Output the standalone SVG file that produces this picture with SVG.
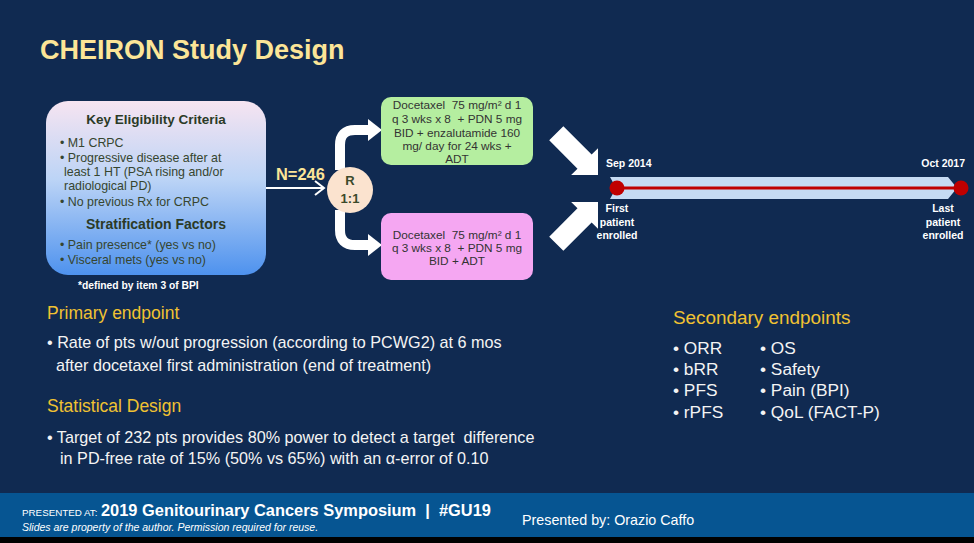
<svg xmlns="http://www.w3.org/2000/svg" width="974" height="543" viewBox="0 0 974 543">
<defs>
<linearGradient id="eligGrad" x1="0" y1="0" x2="0" y2="1">
<stop offset="0" stop-color="#f6e4f1"/>
<stop offset="0.45" stop-color="#bcd4f6"/>
<stop offset="1" stop-color="#4e92ee"/>
</linearGradient>
</defs>
<style>
text{font-family:"Liberation Sans",Arial,sans-serif;white-space:pre}
.title{font-size:27px;font-weight:bold;fill:#fce597}
.elig{font-size:12.4px;fill:#36452f}
.eligh{font-size:13.5px;font-weight:bold;fill:#2b3a26}
.arm{font-size:11.8px;fill:#333333;text-anchor:middle}
.tl{font-size:10.5px;font-weight:bold;fill:#ffffff}
.hdr{font-size:17.5px;fill:#f1c232}
.body{font-size:16.2px;fill:#f4f4f4}
.sec{font-size:17.3px;fill:#f4f4f4}
.wline{fill:none;stroke:#ffffff}
.foot{fill:#ffffff}
</style>
<rect x="0" y="0" width="974" height="543" fill="#102a51"/>
<rect x="0" y="493" width="974" height="44" fill="#065592"/>
<rect x="0" y="537" width="974" height="6" fill="#000000"/>

<text class="title" x="40" y="59">CHEIRON Study Design</text>

<g id="eligibility">
<rect x="46" y="101" width="220" height="174" rx="22" fill="url(#eligGrad)"/>
<text class="eligh" x="156" y="124" text-anchor="middle">Key Eligibility Criteria</text>
<text class="elig" x="60" y="147">• M1 CRPC</text>
<text class="elig" x="60" y="162">• Progressive disease after at</text>
<text class="elig" x="64" y="176">least 1 HT (PSA rising and/or</text>
<text class="elig" x="64" y="190">radiological PD)</text>
<text class="elig" x="60" y="206">• No previous Rx for CRPC</text>
<text class="eligh" x="156" y="229" text-anchor="middle" style="font-size:14px">Stratification Factors</text>
<text class="elig" x="60" y="249">• Pain presence* (yes vs no)</text>
<text class="elig" x="60" y="264">• Visceral mets (yes vs no)</text>
</g>
<text x="78" y="289" style="font-size:10.3px;font-weight:bold;fill:#ffffff">*defined by item 3 of BPI</text>

<g id="connectors">
<line class="wline" x1="266" y1="188" x2="324" y2="188" stroke-width="2"/>
<polyline class="wline" points="315,181 324,188 315,195" stroke-width="2"/>
<path class="wline" d="M340,170 L340,145 Q340,130 355,130 L370,130" stroke-width="10"/>
<polygon points="368,119 382,130 368,141" fill="#ffffff"/>
<path class="wline" d="M340,210 L340,230 Q340,245 355,245 L370,245" stroke-width="10"/>
<polygon points="368,234 382,245 368,256" fill="#ffffff"/>
<polygon transform="translate(598,175) rotate(45)" points="-59,-10 -19,-10 -19,-19 0,0 -19,19 -19,10 -59,10" fill="#ffffff"/>
<polygon transform="translate(598,202) rotate(-45)" points="-59,-10 -19,-10 -19,-19 0,0 -19,19 -19,10 -59,10" fill="#ffffff"/>
</g>
<text x="276" y="180" style="font-size:16.4px;font-weight:bold;fill:#fce597">N=246</text>

<g id="randomization">
<circle cx="350" cy="190" r="23" fill="#fbe3cf"/>
<text x="350" y="185" text-anchor="middle" style="font-size:13px;font-weight:bold;fill:#3b4a2a">R</text>
<text x="350" y="203" text-anchor="middle" style="font-size:13px;font-weight:bold;fill:#3b4a2a">1:1</text>
</g>

<g id="arm-enzalutamide">
<rect x="381" y="97" width="152" height="68" rx="10" fill="#b5eea0"/>
<text class="arm" x="457" y="109">Docetaxel  75 mg/m² d 1</text>
<text class="arm" x="457" y="123">q 3 wks x 8  + PDN 5 mg</text>
<text class="arm" x="457" y="137">BID + enzalutamide 160</text>
<text class="arm" x="457" y="150">mg/ day for 24 wks +</text>
<text class="arm" x="457" y="163">ADT</text>
</g>

<g id="arm-control">
<rect x="381" y="213" width="152" height="67" rx="10" fill="#f5a7f2"/>
<text class="arm" x="457" y="239">Docetaxel  75 mg/m² d 1</text>
<text class="arm" x="457" y="252">q 3 wks x 8  + PDN 5 mg</text>
<text class="arm" x="457" y="265">BID + ADT</text>
</g>

<g id="timeline">
<polygon points="610,177 948,177 957,188 948,199 610,199 616,188" fill="#c6dbf3"/>
<line x1="617" y1="188" x2="961" y2="188" stroke="#c00000" stroke-width="3"/>
<circle cx="617" cy="188" r="7.5" fill="#c00000"/>
<circle cx="961" cy="188" r="7.5" fill="#c00000"/>
<text class="tl" x="606" y="167">Sep 2014</text>
<text class="tl" x="965" y="167" text-anchor="end">Oct 2017</text>
<text class="tl" x="617" y="212" text-anchor="middle">First</text>
<text class="tl" x="617" y="226" text-anchor="middle">patient</text>
<text class="tl" x="617" y="239" text-anchor="middle">enrolled</text>
<text class="tl" x="943" y="212" text-anchor="middle">Last</text>
<text class="tl" x="943" y="226" text-anchor="middle">patient</text>
<text class="tl" x="943" y="239" text-anchor="middle">enrolled</text>
</g>

<g id="primary">
<text class="hdr" x="47" y="319">Primary endpoint</text>
<text class="body" x="47" y="348">• Rate of pts w/out progression (according to PCWG2) at 6 mos</text>
<text class="body" x="56" y="371">after docetaxel first administration (end of treatment)</text>
</g>
<g id="statistical">
<text class="hdr" x="47" y="412">Statistical Design</text>
<text class="body" x="47" y="443">• Target of 232 pts provides 80% power to detect a target  difference</text>
<text class="body" x="60" y="464">in PD-free rate of 15% (50% vs 65%) with an α-error of 0.10</text>
</g>
<g id="secondary">
<text class="hdr" x="673" y="324" style="font-size:18.9px">Secondary endpoints</text>
<text class="sec" x="673" y="354">• ORR</text>
<text class="sec" x="673" y="375">• bRR</text>
<text class="sec" x="673" y="396">• PFS</text>
<text class="sec" x="673" y="418">• rPFS</text>
<text class="sec" x="760" y="354">• OS</text>
<text class="sec" x="760" y="375">• Safety</text>
<text class="sec" x="760" y="396">• Pain (BPI)</text>
<text class="sec" x="760" y="418">• QoL (FACT-P)</text>
</g>

<g id="footer">
<text class="foot" x="22" y="516" style="font-size:9.8px">PRESENTED AT:</text>
<text class="foot" x="101" y="516" style="font-size:16.4px;font-weight:bold">2019 Genitourinary Cancers Symposium  |  #GU19</text>
<text class="foot" x="22" y="531" style="font-size:10.5px;font-style:italic">Slides are property of the author. Permission required for reuse.</text>
<text class="foot" x="522" y="525" style="font-size:14.3px">Presented by: Orazio Caffo</text>
</g>
</svg>
